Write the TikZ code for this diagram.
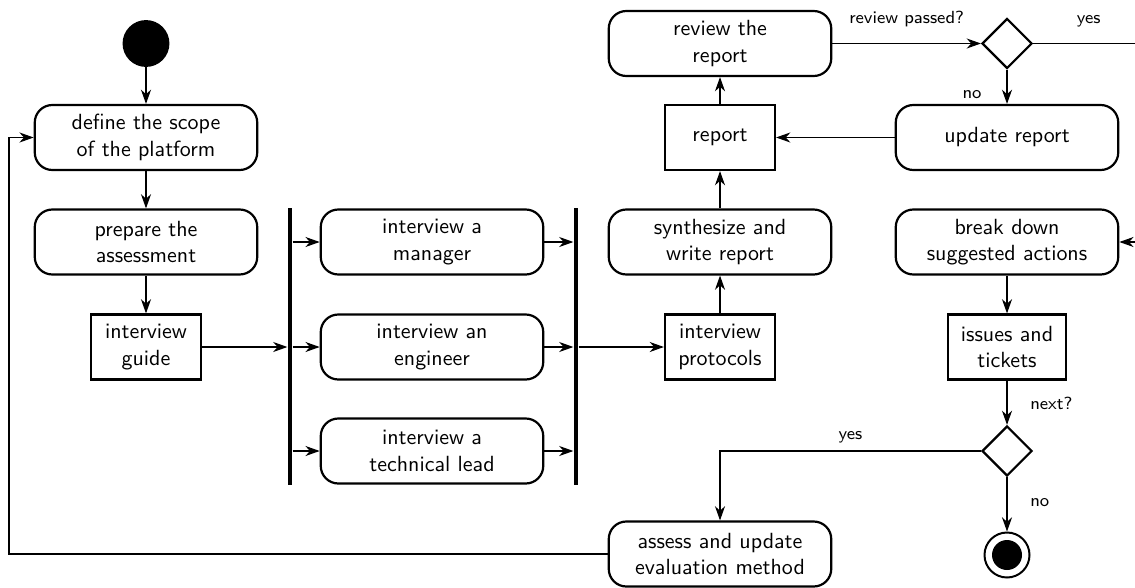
\documentclass[tikz,border=0pt]{standalone}
\usetikzlibrary{arrows.meta, shapes.geometric}

\begin{document}
\begin{tikzpicture}[>={Stealth[length=6.5pt,width=4.6pt]}, font=\sffamily,
  action/.style={draw, line width=1pt, rounded corners=8pt, align=center,
    minimum width=3.56cm, minimum height=1.04cm},
  artifact/.style={draw, line width=1pt, align=center, minimum width=1.76cm,
    minimum height=1.04cm, inner xsep=6pt},
  bar/.style={fill=black, inner sep=0pt, minimum width=2pt, minimum height=4.43cm},
  choice/.style={draw, diamond, line width=1pt, inner sep=0pt, minimum size=0.8cm},
  flow/.style={->, line width=0.5pt},
  guard/.style={font=\sffamily\footnotesize}]

  % page frame, the detour on the right runs past it
  \useasboundingbox (0,0) rectangle (18.16,-9.392);
  \clip (0,0) rectangle (18.16,-9.392);

  % initial and final states
  \node[circle, fill=black, inner sep=0pt, minimum size=0.75cm] (start) at (2.336,-0.696) {};
  \node[circle, draw, line width=0.9pt, inner sep=0pt, minimum size=0.72cm] (stop) at (16.112,-8.88) {};
  \fill (stop) circle (0.24);

  % preparation column
  \node[action] (define) at (2.336,-2.2) {define the scope\\of the platform};
  \node[action] (prepare) at (2.336,-3.872) {prepare the\\assessment};
  \node[artifact] (guide) at (2.336,-5.552) {interview\\guide};

  % parallel interviews between fork and join
  \node[bar] (fork) at (4.64,-5.544) {};
  \node[action] (manager) at (6.912,-3.872) {interview a\\manager};
  \node[action] (engineer) at (6.912,-5.552) {interview an\\engineer};
  \node[action] (lead) at (6.912,-7.216) {interview a\\technical lead};
  \node[bar] (join) at (9.216,-5.544) {};

  % reporting column
  \node[artifact] (protocols) at (11.52,-5.552) {interview\\protocols};
  \node[action] (synth) at (11.52,-3.872) {synthesize and\\write report};
  \node[artifact] (report) at (11.52,-2.2) {report};
  \node[action] (review) at (11.52,-0.696) {review the\\report};
  \node[action] (assess) at (11.52,-8.864) {assess and update\\evaluation method};

  % follow-up column
  \node[choice] (passed) at (16.112,-0.696) {};
  \node[action] (update) at (16.112,-2.2) {update report};
  \node[action] (breakdown) at (16.112,-3.872) {break down\\suggested actions};
  \node[artifact] (tickets) at (16.112,-5.552) {issues and\\tickets};
  \node[choice] (next) at (16.112,-7.216) {};

  % helper points for the outer routes
  \coordinate (rightA) at (18.6,-0.696);
  \coordinate (rightB) at (18.6,-3.872);
  \coordinate (back) at (0.144,-8.864);

  % control flow
  \draw[flow] (start) -- (define);
  \draw[flow] (define) -- (prepare);
  \draw[flow] (prepare) -- (guide);
  \draw[flow] (guide.east) -- (fork.west |- guide);
  \foreach \task in {manager, engineer, lead} {
    \draw[flow] (fork.east |- \task) -- (\task.west);
    \draw[flow] (\task.east) -- (join.west |- \task);
  }
  \draw[flow] (join.east |- protocols) -- (protocols.west);
  \draw[flow] (protocols) -- (synth);
  \draw[flow] (synth) -- (report);
  \draw[flow] (report) -- (review);
  \draw[flow] (review.east) -- node[guard, above=4pt] {review passed?} (passed.west);
  \draw[flow] (passed.south) -- node[guard, left=8pt, pos=0.72] {no} (update.north);
  \draw[flow] (update.west) -- (report.east);
  \draw[flow] (passed.east) -- node[guard, above=4pt, pos=0.43] {yes} (rightA)
    -- (rightB) -- (breakdown.east);
  \draw[flow] (breakdown) -- (tickets);
  \draw[flow] (tickets) -- node[guard, right=7pt, pos=0.52] {next?} (next);
  \draw[flow] (next) -- node[guard, right=7pt, pos=0.46] {no} (stop);
  \draw[flow] (next.west) -| node[guard, above, pos=0.25] {yes} (assess.north);
  \draw[flow] (assess.west) -- (back) |- (define.west);
\end{tikzpicture}
\end{document}
